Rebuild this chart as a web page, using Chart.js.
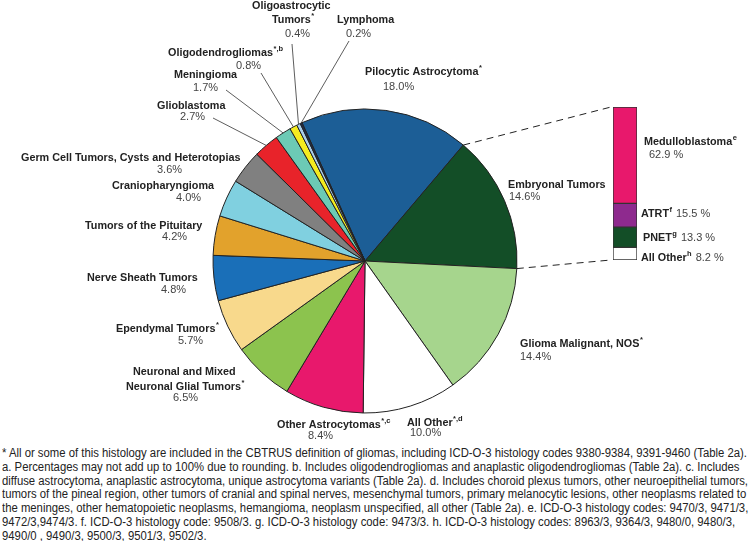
<!DOCTYPE html>
<html>
<head>
<meta charset="utf-8">
<title>Distribution of brain and CNS tumors</title>
<script src="https://cdn.jsdelivr.net/npm/chart.js@4.4.1/dist/chart.umd.min.js"></script>
<style>
  html, body { margin: 0; padding: 0; background: #fff; }
  #wrap { position: relative; width: 754px; height: 541px; overflow: hidden; }
  #pie { position: absolute; left: 0; top: 0; }
  #bar { position: absolute; left: 612px; top: 106px; }
  #notes {
    position: absolute; left: 2px; top: 447px; width: 752px;
    font-family: 'Liberation Sans', Arial, sans-serif;
    font-size: 12px; line-height: 13.8px; color: #222;
  }
  #notes div { white-space: nowrap; height: 13.8px; }
  #notes span { display: inline-block; transform-origin: 0 0; }
</style>
</head>
<body>
<div id="wrap">
  <canvas id="pie" width="754" height="440"></canvas>
  <canvas id="bar" width="26" height="155"></canvas>
  <div id="notes">
    <div><span>* All or some of this histology are included in the CBTRUS definition of gliomas, including ICD-O-3 histology codes 9380-9384, 9391-9460 (Table 2a).</span></div>
    <div><span>a. Percentages may not add up to 100% due to rounding. b. Includes oligodendrogliomas and anaplastic oligodendrogliomas (Table 2a). c. Includes</span></div>
    <div><span>diffuse astrocytoma, anaplastic astrocytoma, unique astrocytoma variants (Table 2a). d. Includes choroid plexus tumors, other neuroepithelial tumors,</span></div>
    <div><span>tumors of the pineal region, other tumors of cranial and spinal nerves, mesenchymal tumors, primary melanocytic lesions, other neoplasms related to</span></div>
    <div><span>the meninges, other hematopoietic neoplasms, hemangioma, neoplasm unspecified, all other (Table 2a). e. ICD-O-3 histology codes: 9470/3, 9471/3,</span></div>
    <div><span>9472/3,9474/3. f. ICD-O-3 histology code: 9508/3. g. ICD-O-3 histology code: 9473/3. h. ICD-O-3 histology codes: 8963/3, 9364/3, 9480/0, 9480/3,</span></div>
    <div><span>9490/0 , 9490/3, 9500/3, 9501/3, 9502/3.</span></div>
  </div>
</div>
<script>
// Histology groups, clockwise from the top
const CATEGORIES = [
  'Pilocytic Astrocytoma', 'Embryonal Tumors', 'Glioma Malignant, NOS', 'All Other',
  'Other Astrocytomas', 'Neuronal and Mixed Neuronal Glial Tumors', 'Ependymal Tumors',
  'Nerve Sheath Tumors', 'Tumors of the Pituitary', 'Craniopharyngioma',
  'Germ Cell Tumors, Cysts and Heterotopias', 'Glioblastoma', 'Meningioma',
  'Oligodendrogliomas', 'Oligoastrocytic Tumors', 'Lymphoma'
];
const PERCENTS = [18.0, 14.6, 14.4, 10.0, 8.4, 6.5, 5.7, 4.8, 4.2, 4.0, 3.6, 2.7, 1.7, 0.8, 0.4, 0.2];
const FOOTMARKS = ['*', '', '*', '*,d', '*,c', '*', '*', '', '', '', '', '', '', '*,b', '*', ''];
const SLICE_COLORS = [
  '#1c5e96', '#134e27', '#a6d58d', '#ffffff', '#e8186c', '#8cc34e', '#f8d98c', '#1a6fb8',
  '#e2a22c', '#80d0e0', '#808080', '#e8232a', '#6ccab5', '#f4eb1f', '#a9cde9', '#1e2b4e'
];

// Breakdown of embryonal tumors
const EMB_TYPES = ['Medulloblastoma', 'ATRT', 'PNET', 'All Other'];
const EMB_PERCENTS = [62.9, 15.5, 13.3, 8.2];
const EMB_FOOTMARKS = ['e', 'f', 'g', 'h'];
const EMB_COLORS = ['#e8186c', '#8e2a8e', '#134e27', '#ffffff'];

// label placement: left x / centre y of the name, left x / centre y of the value,
// brk = number of words on the first line (0 = one line), lead = start of leader line
const LABEL_LAYOUT = [
  { x: 365, y: 72, px: 383, py: 87 },
  { x: 508, y: 185, px: 509, py: 197 },
  { x: 520, y: 344, px: 520, py: 357 },
  { x: 407, y: 423, px: 410, py: 433 },
  { x: 277, y: 425, px: 308, py: 436 },
  { x: 133, y: 372, px: 173, py: 398, brk: 3, x2: 126, y2: 387 },
  { x: 116, y: 329, px: 178, py: 341 },
  { x: 87, y: 278, px: 161, py: 290 },
  { x: 85, y: 226, px: 162, py: 237 },
  { x: 112, y: 186, px: 176, py: 198 },
  { x: 21, y: 158, px: 157, py: 170 },
  { x: 157, y: 106, px: 180, py: 117, lead: [213, 118] },
  { x: 174, y: 75, px: 193, py: 88, lead: [226, 90] },
  { x: 168, y: 53, px: 236, py: 66, lead: [261, 73] },
  { x: 252, y: 6, px: 285, py: 34, brk: 1, x2: 272, y2: 20, lead: [292, 44] },
  { x: 337, y: 20, px: 346, py: 34, lead: [349, 41] }
];

// stacked bar box (shared with the canvas placement in the css)
const BAR_BOX = { x: 613, y: 107, w: 24, h: 153 };

const BOLD = "bold 10.8px 'Liberation Sans', Arial, sans-serif";
const SUP = "bold 7.5px 'Liberation Sans', Arial, sans-serif";
const REG = "11px 'Liberation Sans', Arial, sans-serif";
const TEXT_COLOR = '#222';
const VALUE_COLOR = '#444';

function drawRich(ctx, x, y, text, sup) {
  ctx.font = BOLD;
  ctx.fillStyle = TEXT_COLOR;
  ctx.fillText(text, x, y);
  let w = ctx.measureText(text).width;
  if (sup) {
    ctx.font = SUP;
    ctx.fillText(sup, x + w + 0.5, y - 4);
    w += ctx.measureText(sup).width + 0.5;
  }
  return x + w;
}

const labelPlugin = {
  id: 'pieLabels',
  afterDraw(chart) {
    const ctx = chart.ctx;
    const arcs = chart.getDatasetMeta(0).data;
    ctx.save();
    ctx.textBaseline = 'middle';
    ctx.textAlign = 'left';

    // leader lines for the thin slices
    ctx.strokeStyle = '#333';
    ctx.lineWidth = 0.8;
    LABEL_LAYOUT.forEach((l, i) => {
      if (!l.lead) return;
      const a = arcs[i];
      const mid = (a.startAngle + a.endAngle) / 2;
      ctx.beginPath();
      ctx.moveTo(l.lead[0], l.lead[1]);
      ctx.lineTo(a.x + Math.cos(mid) * a.outerRadius, a.y + Math.sin(mid) * a.outerRadius);
      ctx.stroke();
    });

    // names and values
    CATEGORIES.forEach((name, i) => {
      const l = LABEL_LAYOUT[i];
      if (l.brk) {
        const words = name.split(' ');
        drawRich(ctx, l.x, l.y, words.slice(0, l.brk).join(' '), '');
        drawRich(ctx, l.x2, l.y2, words.slice(l.brk).join(' '), FOOTMARKS[i]);
      } else {
        drawRich(ctx, l.x, l.y, name, FOOTMARKS[i]);
      }
      ctx.font = REG;
      ctx.fillStyle = VALUE_COLOR;
      ctx.fillText(PERCENTS[i].toFixed(1) + '%', l.px, l.py);
    });

    // dashed connectors from the embryonal slice to the bar
    const emb = arcs[1];
    ctx.setLineDash([7, 5]);
    ctx.lineWidth = 1;
    ctx.strokeStyle = '#222';
    ctx.beginPath();
    ctx.moveTo(emb.x + Math.cos(emb.startAngle) * emb.outerRadius, emb.y + Math.sin(emb.startAngle) * emb.outerRadius);
    ctx.lineTo(BAR_BOX.x - 2, BAR_BOX.y);
    ctx.moveTo(emb.x + Math.cos(emb.endAngle) * emb.outerRadius, emb.y + Math.sin(emb.endAngle) * emb.outerRadius);
    ctx.lineTo(BAR_BOX.x - 2, BAR_BOX.y + BAR_BOX.h);
    ctx.stroke();
    ctx.setLineDash([]);

    // bar labels
    let nx = drawRich(ctx, 644, 142, EMB_TYPES[0], EMB_FOOTMARKS[0]);
    ctx.font = REG; ctx.fillStyle = VALUE_COLOR;
    ctx.fillText(EMB_PERCENTS[0].toFixed(1) + ' %', 649, 155);
    const rows = [[641, 214], [643, 238], [641, 258]];
    rows.forEach((r, k) => {
      const i = k + 1;
      nx = drawRich(ctx, r[0], r[1], EMB_TYPES[i], EMB_FOOTMARKS[i]);
      ctx.font = REG; ctx.fillStyle = VALUE_COLOR;
      ctx.fillText(EMB_PERCENTS[i].toFixed(1) + ' %', nx + 4, r[1]);
    });
    ctx.restore();
  }
};

new Chart(document.getElementById('pie'), {
  type: 'pie',
  data: {
    labels: CATEGORIES,
    datasets: [{
      data: PERCENTS,
      backgroundColor: SLICE_COLORS,
      borderColor: '#222',
      borderWidth: 1
    }]
  },
  options: {
    responsive: false,
    animation: false,
    rotation: -24.5,
    radius: 152,
    layout: { padding: { left: 0, right: 24, top: 82, bottom: 0 } },
    plugins: { legend: { display: false }, tooltip: { enabled: false } }
  },
  plugins: [labelPlugin]
});

// stacked bar, bottom segment first
const barSets = EMB_TYPES.map((t, i) => ({
  label: t,
  data: [EMB_PERCENTS[i]],
  backgroundColor: EMB_COLORS[i],
  borderColor: '#333',
  borderWidth: 1,
  borderSkipped: false,
  barPercentage: 1,
  categoryPercentage: 1
})).reverse();

new Chart(document.getElementById('bar'), {
  type: 'bar',
  data: { labels: ['Embryonal'], datasets: barSets },
  options: {
    responsive: false,
    animation: false,
    layout: { padding: 1 },
    scales: {
      x: { stacked: true, display: false },
      y: { stacked: true, display: false, min: 0, max: EMB_PERCENTS.reduce((a, b) => a + b, 0) }
    },
    plugins: { legend: { display: false }, tooltip: { enabled: false } }
  }
});

// the original uses a condensed face: squeeze all footnote lines by one common factor
const noteSpans = document.querySelectorAll('#notes span');
const squeeze = 745 / noteSpans[0].getBoundingClientRect().width;
noteSpans.forEach(s => { s.style.transform = 'scaleX(' + squeeze + ')'; });
</script>
</body>
</html>
